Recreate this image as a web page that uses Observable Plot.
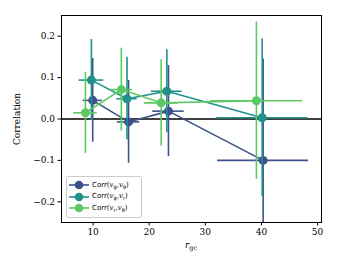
<!DOCTYPE html>
<html>
<head>
<meta charset="utf-8">
<script src="https://cdn.jsdelivr.net/npm/d3@7"></script>
<script src="https://cdn.jsdelivr.net/npm/@observablehq/plot@0.6"></script>
<style>
  html, body { margin: 0; padding: 0; background: #fff; }
  #wrap { position: relative; width: 337px; height: 270px; }
  .lbl { position: absolute; font-family: "DejaVu Serif", serif; font-size: 9px; color: #000; white-space: nowrap; }
  #legend { position: absolute; left: 66px; top: 176px; width: 76px; height: 42px; box-sizing: border-box;
            border: 1px solid #ccc; border-radius: 2px; background: rgba(255,255,255,0.8);
            font-family: "DejaVu Sans", sans-serif; font-size: 7px; }
  .row { position: absolute; left: 0; height: 10px; display: flex; align-items: center; }
  .row svg { margin-left: 2px; }
  .row span { margin-left: 3px; }
  .row i { font-family: "DejaVu Serif", serif; }
  sub { font-size: 5px; vertical-align: -1.5px; }
  .lbl sub { font-size: 6.5px; vertical-align: -2px; }
</style>
</head>
<body>
<div id="wrap"></div>
<script>
// Series: Corr(v_phi, v_theta)
const rgcPhiTheta = [9.93, 16.32, 23.43, 40.3];
const corrPhiTheta = [0.045, -0.007, 0.019, -0.1];
const xerrPhiTheta = [1.7, 2.0, 2.8, 8.1];
const yerrPhiTheta = [0.101, 0.1, 0.11, 0.245];
// Series: Corr(v_phi, v_r)
const rgcPhiR = [9.7, 16.04, 23.14, 40.13];
const corrPhiR = [0.094, 0.049, 0.067, 0.003];
const xerrPhiR = [2.2, 1.8, 2.75, 8.15];
const yerrPhiR = [0.098, 0.1, 0.1, 0.19];
// Series: Corr(v_r, v_theta)
const rgcRTheta = [8.63, 15.03, 22.13, 39.1];
const corrRTheta = [0.015, 0.071, 0.039, 0.044];
const xerrRTheta = [2.1, 2.0, 3.0, 8.2];
const yerrRTheta = [0.098, 0.1, 0.104, 0.19];

const xTicks = [10, 20, 30, 40, 50];
const yTicks = [-0.2, -0.1, 0.0, 0.1, 0.2];

const seriesNames = ["phiTheta", "phiR", "rTheta"];
const seriesColors = ["#3b528b", "#21918c", "#5ec962"];

function build(name, xs, ys, xe, ye) {
  return xs.map((x, i) => ({series: name, x, y: ys[i], xe: xe[i], ye: ye[i]}));
}
const groups = [
  build("phiTheta", rgcPhiTheta, corrPhiTheta, xerrPhiTheta, yerrPhiTheta),
  build("phiR", rgcPhiR, corrPhiR, xerrPhiR, yerrPhiR),
  build("rTheta", rgcRTheta, corrRTheta, xerrRTheta, yerrRTheta)
];

const marks = [Plot.ruleY([0], {stroke: "#000", strokeWidth: 1.5})];
groups.forEach((data, k) => {
  const c = seriesColors[k];
  marks.push(
    Plot.ruleX(data, {x: "x", y1: d => d.y - d.ye, y2: d => d.y + d.ye, stroke: c, strokeWidth: 1.6, clip: true}),
    Plot.ruleY(data, {y: "y", x1: d => d.x - d.xe, x2: d => d.x + d.xe, stroke: c, strokeWidth: 1.6, clip: true}),
    Plot.line(data, {x: "x", y: "y", stroke: c, strokeWidth: 1.6, clip: true}),
    Plot.dot(data, {x: "x", y: "y", r: 4.5, fill: c, stroke: "none", clip: true})
  );
});
marks.push(Plot.frame({stroke: "#000", strokeWidth: 1}));

const chart = Plot.plot({
  width: 337, height: 270,
  marginLeft: 61, marginRight: 16, marginTop: 15, marginBottom: 48,
  style: {fontFamily: "DejaVu Serif, serif", fontSize: "9px", color: "#000", background: "#fff"},
  x: {domain: [4.37, 50.7], ticks: xTicks, tickSize: 3.5, tickPadding: 3, label: null, tickFormat: d3.format("d")},
  y: {domain: [-0.25, 0.25], ticks: yTicks, tickSize: 3.5, tickPadding: 3, label: null, tickFormat: d3.format(".1f")},
  marks
});
const wrap = document.getElementById("wrap");
wrap.appendChild(chart);

// axis labels
const yl = document.createElement("div");
yl.className = "lbl";
yl.textContent = "Correlation";
yl.style.left = "17px"; yl.style.top = "119px";
yl.style.transform = "translate(-50%, -50%) rotate(-90deg)";
wrap.appendChild(yl);
const xl = document.createElement("div");
xl.className = "lbl";
xl.innerHTML = "<i>r</i><sub>gc</sub>";
xl.style.left = "191px"; xl.style.top = "246px";
xl.style.transform = "translate(-50%, -50%)";
wrap.appendChild(xl);

// legend
const legendLabels = [
  "Corr(<i>v</i><sub>ϕ</sub>,<i>v</i><sub>θ</sub>)",
  "Corr(<i>v</i><sub>ϕ</sub>,<i>v</i><sub>r</sub>)",
  "Corr(<i>v</i><sub>r</sub>,<i>v</i><sub>θ</sub>)"
];
const lg = document.createElement("div");
lg.id = "legend";
legendLabels.forEach((t, k) => {
  const row = document.createElement("div");
  row.className = "row";
  row.style.top = (3 + k * 11.5) + "px";
  row.innerHTML = `<svg width="20" height="10"><line x1="0" x2="20" y1="5" y2="5" stroke="${seriesColors[k]}" stroke-width="1.6"/><circle cx="10" cy="5" r="4.3" fill="${seriesColors[k]}"/></svg><span>${t}</span>`;
  lg.appendChild(row);
});
wrap.appendChild(lg);
</script>
</body>
</html>
